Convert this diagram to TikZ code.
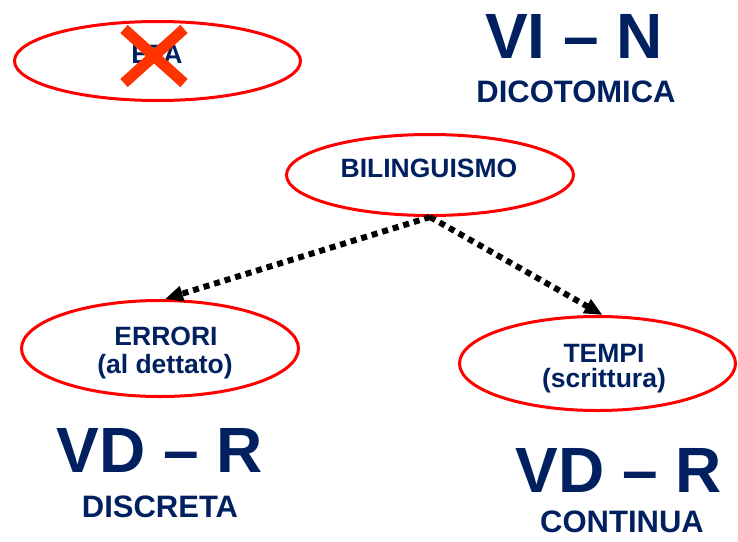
\documentclass[tikz,border=0pt]{standalone}
\usepackage{fontspec}
\setmainfont{Liberation Sans}
\usetikzlibrary{shapes.geometric,arrows.meta}
\definecolor{navy}{RGB}{0,32,96}
\definecolor{crossred}{RGB}{255,51,0}
\begin{document}
\begin{tikzpicture}[x=1pt,y=-1pt,
		oval/.style={ellipse,draw=red,line width=3pt,inner sep=0pt},
		lbl/.style={anchor=base,inner sep=1pt,text=navy,font=\bfseries\fontsize{26.5}{30}\selectfont},
		big/.style={anchor=base,inner sep=1pt,text=navy,font=\bfseries\fontsize{64}{70}\selectfont},
		kind/.style={anchor=base,inner sep=1pt,text=navy,font=\bfseries\fontsize{31}{34}\selectfont},
		dots/.style={line width=6pt,dash pattern=on 6pt off 5pt,-{Triangle[length=18pt,width=15pt]}}]
		\useasboundingbox (0,0) rectangle (738,541);
		% ovals
		\node[oval,minimum width=286pt,minimum height=79pt] (eta) at (157.5,61){};
		\node[oval,minimum width=287pt,minimum height=81pt] (bil) at (430,175){};
		\node[oval,minimum width=277pt,minimum height=96pt] (err) at (160,348.5){};
		\node[oval,minimum width=276pt,minimum height=94pt] (tem) at (597.5,363.5){};
		% texts
		\node[lbl] (etat) at (157,63){ETA};
		\node[lbl] (bilt) at (429,177){BILINGUISMO};
		\node[lbl] (errt) at (166,345){ERRORI};
		\node[lbl] (errs) at (165,373){(al dettato)};
		\node[lbl] (temt) at (604,362){TEMPI};
		\node[lbl] (tems) at (604,387){(scrittura)};
		% crossed out
		\draw[crossred,line width=11pt] (124,29)--(184,83);
		\draw[crossred,line width=11pt] (184,29)--(124,83);
		% variables
		\node[big] (vin) at (574,58){VI \textendash{} N};
		\node[kind] (dic) at (576,102){DICOTOMICA};
		\node[big] (vdl) at (160,472){VD \textendash{} R};
		\node[kind] (dis) at (160,517){DISCRETA};
		\node[big] (vdr) at (619,492){VD \textendash{} R};
		\node[kind] (con) at (622,532){CONTINUA};
		% arrows
		\draw[dots] (bil.south)--([xshift=5pt]err.north);
		\draw[dots] (bil.south)--([xshift=5pt]tem.north);
	\end{tikzpicture}
\end{document}
